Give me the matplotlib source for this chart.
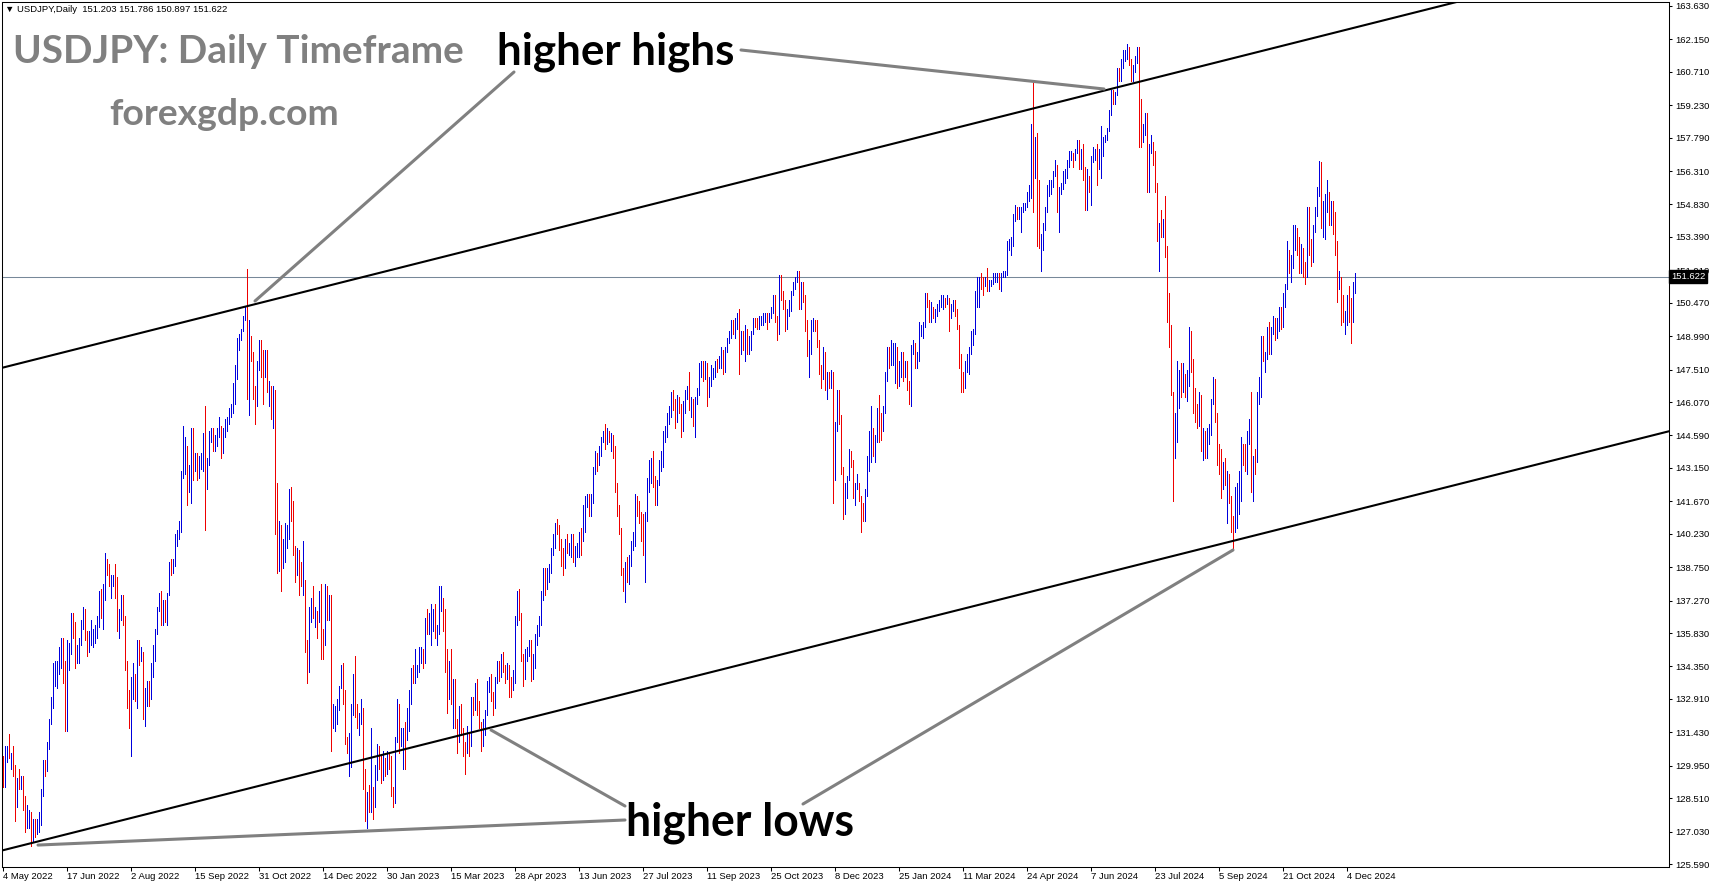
import matplotlib
matplotlib.use("Agg")
import matplotlib.pyplot as plt
import numpy as np

W, H = 1714, 888

# daily bars, weekdays from 4 May 2022 to 10 Dec 2024 (no bar on 26 Dec 2022, 25 Dec 2023, 1 Jan 2024)
first_open = 130.1

highs = [
    # May 2022
    130.4, 130.8, 130.8, 131.35, 130.5, 130.8, 130.0, 129.4, 129.8, 129.5, 129.5, 128.6, 128.2, 128.0, 127.9, 127.6, 127.6, 127.6, 127.9, 128.9,
    # Jun 2022
    130.2, 130.2, 131.0, 132.0, 133.0, 134.5, 134.6, 134.6, 135.2, 135.6, 135.6, 134.6, 135.5, 135.4, 136.7, 136.7, 136.3, 135.3, 135.6, 136.4, 137.0, 136.9,
    # Jul 2022
    135.9, 135.9, 136.4, 136.0, 136.2, 136.6, 137.7, 137.8, 138.0, 139.4, 139.1, 138.9, 138.4, 138.4, 138.9, 138.3, 136.9, 137.5, 137.5, 136.6, 134.6,
    # Aug 2022
    133.3, 133.9, 134.5, 134.0, 135.5, 135.5, 135.2, 135.0, 133.4, 133.7, 133.7, 134.5, 135.3, 136.0, 137.0, 137.6, 137.7, 137.3, 137.3, 137.6, 139.0, 139.1, 139.1,
    # Sep 2022
    140.2, 140.4, 140.8, 143.0, 145.0, 144.5, 144.0, 143.3, 144.9, 144.9, 143.8, 143.8, 143.7, 143.8, 144.7, 145.9, 143.6, 144.8, 144.9, 144.9, 144.6, 144.9,
    # Oct 2022
    145.4, 145.0, 144.9, 145.3, 145.4, 145.8, 146.0, 146.9, 147.7, 148.9, 149.1, 149.3, 149.9, 150.3, 151.95, 149.7, 149.0, 148.3, 146.8, 147.9, 148.8,
    # Nov 2022
    148.8, 148.4, 148.4, 148.4, 147.0, 146.8, 146.8, 146.6, 142.5, 140.8, 140.6, 140.0, 140.7, 140.6, 142.2, 142.3, 141.7, 139.7, 139.6, 139.5, 139.0, 139.9,
    # Dec 2022
    138.2, 135.5, 137.0, 137.4, 137.9, 137.0, 136.8, 137.7, 138.0, 136.0, 138.0, 137.9, 137.5, 137.5, 132.7, 132.6, 132.9, 133.5, 134.4, 134.5, 133.3,
    # Jan 2023
    131.2, 131.4, 132.7, 134.0, 134.8, 132.7, 132.3, 132.9, 132.5, 129.8, 128.8, 129.1, 131.6, 129.0, 130.0, 130.9, 130.8, 130.4, 130.6, 130.3, 130.6, 130.5,
    # Feb 2023
    130.4, 129.0, 131.2, 132.9, 132.7, 131.6, 131.6, 131.9, 132.5, 133.3, 134.3, 134.4, 135.1, 134.4, 135.2, 135.2, 135.1, 136.5, 136.9, 136.7,
    # Mar 2023
    137.1, 136.9, 137.1, 136.2, 137.9, 137.9, 137.4, 136.9, 135.1, 134.6, 135.1, 133.8, 133.8, 132.0, 132.6, 132.7, 131.6, 131.0, 131.7, 131.3, 133.0, 133.0, 133.6,
    # Apr 2023
    133.8, 132.8, 131.9, 132.0, 132.4, 133.7, 133.9, 134.0, 133.2, 133.9, 134.6, 134.6, 134.9, 135.0, 134.4, 134.5, 134.4, 133.9, 134.2, 136.6,
    # May 2023
    137.7, 137.8, 136.7, 134.9, 135.1, 135.2, 135.5, 135.5, 134.9, 135.8, 136.2, 136.6, 137.7, 138.7, 138.7, 138.7, 138.9, 139.6, 140.2, 140.7, 140.9, 140.6, 140.0,
    # Jun 2023
    139.6, 140.0, 140.2, 139.8, 140.2, 140.2, 139.7, 139.8, 140.3, 140.5, 141.5, 141.9, 142.0, 142.0, 142.0, 143.2, 143.9, 143.8, 144.1, 144.5, 144.8, 145.1,
    # Jul 2023
    144.9, 144.8, 144.7, 144.6, 144.1, 142.5, 141.5, 140.5, 138.7, 139.0, 139.2, 139.3, 139.9, 140.3, 142.0, 141.9, 141.7, 141.2, 141.1, 141.2, 142.7,
    # Aug 2023
    143.5, 143.6, 143.9, 142.8, 142.6, 143.5, 143.9, 144.8, 145.0, 145.6, 145.9, 146.5, 146.6, 146.2, 146.4, 146.3, 146.0, 146.1, 146.6, 146.8, 147.4, 146.3, 146.2,
    # Sep 2023
    146.3, 146.7, 147.8, 147.9, 147.9, 147.9, 147.6, 147.2, 147.7, 147.6, 147.9, 148.0, 148.1, 148.5, 148.4, 148.5, 148.9, 149.2, 149.7, 149.7, 149.8,
    # Oct 2023
    150.0, 150.2, 149.2, 149.2, 149.5, 149.3, 149.0, 149.2, 149.8, 149.8, 149.8, 149.9, 149.9, 150.0, 150.0, 150.0, 150.0, 150.3, 150.8, 150.8, 149.9, 151.7,
    # Nov 2023
    151.7, 151.0, 150.6, 150.2, 150.6, 151.0, 151.4, 151.6, 151.9, 151.9, 151.4, 151.4, 150.8, 149.7, 148.8, 149.7, 149.8, 149.7, 149.7, 148.8, 147.7, 148.5,
    # Dec 2023
    148.3, 147.4, 147.4, 147.5, 147.4, 145.2, 146.6, 146.6, 145.5, 143.2, 142.5, 142.8, 144.0, 143.9, 143.5, 142.5, 142.9, 142.5, 141.9, 141.6,
    # Jan 2024
    142.2, 143.7, 144.8, 145.9, 144.9, 144.6, 145.8, 146.4, 145.6, 145.9, 147.4, 148.5, 148.5, 148.8, 148.7, 148.7, 148.5, 147.9, 148.3, 148.3, 147.9, 147.9,
    # Feb 2024
    147.0, 148.6, 148.8, 148.7, 148.3, 149.6, 149.5, 149.6, 150.9, 150.9, 150.6, 150.5, 150.3, 150.2, 150.4, 150.6, 150.8, 150.8, 150.7, 150.8, 150.7,
    # Mar 2024
    150.4, 150.6, 150.6, 150.2, 149.5, 148.2, 147.4, 147.9, 148.2, 148.5, 149.2, 149.3, 151.0, 151.6, 151.6, 151.8, 151.6, 151.6, 152.0, 151.5, 151.5,
    # Apr 2024
    151.8, 151.8, 151.8, 151.8, 151.8, 151.9, 151.9, 153.2, 153.3, 153.4, 154.4, 154.8, 154.7, 154.7, 154.7, 154.9, 154.9, 155.4, 155.7, 158.4, 160.2, 157.8,
    # May 2024
    158.0, 155.9, 153.5, 154.0, 154.7, 155.7, 155.9, 155.9, 156.3, 156.8, 156.6, 155.6, 155.8, 156.3, 156.4, 156.8, 157.2, 157.2, 157.1, 157.3, 157.7, 157.7, 157.3,
    # Jun 2024
    157.5, 156.5, 156.4, 156.1, 157.0, 157.4, 157.3, 157.5, 157.3, 158.3, 157.8, 157.9, 158.2, 159.0, 159.9, 159.9, 159.8, 160.9, 160.9, 161.3,
    # Jul 2024
    161.7, 161.7, 161.95, 161.8, 161.3, 161.0, 161.4, 161.8, 161.8, 159.5, 158.4, 158.9, 158.9, 157.5, 157.9, 157.6, 157.2, 155.8, 154.0, 154.6, 154.2, 155.2, 153.0,
    # Aug 2024
    150.9, 149.5, 146.5, 145.6, 147.9, 147.5, 147.8, 147.8, 147.3, 147.5, 149.4, 149.1, 148.0, 146.7, 146.0, 146.5, 146.4, 144.9, 144.8, 144.9, 145.1, 146.2,
    # Sep 2024
    147.2, 147.1, 145.6, 144.2, 144.0, 143.4, 143.6, 143.0, 142.9, 141.9, 141.0, 142.3, 142.5, 143.0, 144.5, 144.2, 144.2, 144.8, 145.3, 146.5, 143.7,
    # Oct 2024
    144.0, 146.5, 147.2, 149.0, 149.0, 148.3, 149.4, 149.6, 149.4, 149.9, 149.8, 149.8, 150.3, 150.3, 150.9, 151.3, 153.2, 152.8, 152.6, 153.9, 153.9, 153.8, 153.4,
    # Nov 2024
    153.1, 152.6, 152.3, 154.7, 154.7, 153.3, 153.9, 154.7, 155.6, 156.75, 156.7, 155.0, 155.3, 155.9, 155.4, 155.0, 155.0, 154.5, 153.2, 151.9, 151.5,
    # Dec 2024
    150.8, 150.1, 150.8, 151.2, 150.7, 151.4, 151.786,
]

lows = [
    # May 2022
    129.0, 129.0, 130.1, 130.3, 129.8, 129.5, 127.5, 128.1, 128.9, 128.9, 128.0, 127.0, 127.2, 127.2, 126.4, 126.6, 126.8, 126.9, 127.0, 127.3,
    # Jun 2022
    128.6, 129.5, 129.7, 130.7, 131.8, 132.5, 133.5, 133.4, 134.0, 134.3, 133.6, 131.5, 131.5, 134.2, 134.9, 135.6, 134.3, 134.5, 134.5, 135.3, 136.0, 135.5,
    # Jul 2022
    134.8, 135.0, 135.3, 135.2, 135.4, 135.6, 136.1, 136.5, 136.0, 137.3, 138.4, 137.9, 137.4, 137.9, 137.4, 135.9, 135.6, 136.4, 136.2, 134.2, 132.5,
    # Aug 2022
    131.6, 130.4, 132.9, 132.8, 132.5, 134.4, 134.6, 132.0, 131.7, 132.6, 132.6, 132.9, 133.9, 134.6, 135.8, 136.8, 136.2, 136.2, 136.3, 136.2, 137.8, 138.4, 138.5,
    # Sep 2022
    138.8, 139.7, 140.0, 140.3, 142.8, 142.9, 141.5, 142.1, 141.6, 142.6, 143.0, 142.6, 142.7, 143.1, 143.0, 140.4, 142.2, 143.3, 144.3, 143.9, 143.9, 144.1,
    # Oct 2022
    144.5, 143.6, 143.8, 144.5, 144.8, 145.1, 145.4, 145.6, 146.0, 147.1, 148.4, 148.8, 149.2, 149.7, 146.2, 145.5, 147.9, 146.2, 145.1, 145.9, 147.5,
    # Nov 2022
    147.2, 146.0, 147.2, 146.5, 145.9, 145.3, 144.9, 140.2, 138.5, 138.6, 137.7, 138.7, 139.0, 139.6, 140.0, 140.8, 139.3, 138.1, 138.4, 137.5, 137.9, 137.5,
    # Dec 2022
    135.0, 133.6, 134.1, 136.3, 136.5, 136.1, 135.6, 136.3, 134.7, 134.7, 135.3, 136.4, 136.4, 130.6, 131.6, 131.5, 131.8, 132.4, 133.4, 132.7, 130.9,
    # Jan 2023
    130.5, 129.5, 129.9, 132.2, 132.1, 131.6, 131.3, 131.8, 128.9, 127.5, 127.2, 127.9, 127.9, 127.6, 128.1, 129.3, 129.8, 129.2, 129.3, 129.5, 129.6, 129.8,
    # Feb 2023
    128.6, 128.1, 128.3, 131.0, 130.5, 130.8, 129.8, 129.8, 131.1, 131.5, 132.7, 133.6, 133.6, 133.9, 134.1, 134.5, 134.3, 134.5, 135.8, 135.8,
    # Mar 2023
    135.3, 135.9, 135.6, 135.3, 135.8, 136.8, 135.9, 134.1, 132.3, 132.9, 132.7, 131.6, 131.6, 130.5, 131.0, 131.3, 130.4, 129.6, 130.5, 130.4, 130.8, 132.2, 132.4,
    # Apr 2023
    132.2, 131.6, 130.6, 130.8, 131.3, 132.2, 133.2, 132.8, 132.2, 132.5, 133.6, 133.7, 133.9, 134.1, 133.6, 133.8, 133.0, 133.0, 133.3, 133.6,
    # May 2023
    136.2, 136.4, 134.6, 133.5, 133.8, 134.6, 134.8, 133.7, 133.8, 134.3, 135.3, 135.7, 136.2, 137.3, 137.5, 137.8, 138.1, 138.5, 139.3, 139.6, 140.2, 139.5, 138.8,
    # Jun 2023
    138.4, 138.7, 139.4, 139.3, 139.2, 139.0, 138.8, 139.2, 139.2, 139.3, 139.9, 140.3, 141.4, 141.0, 141.0, 141.6, 142.9, 143.0, 143.3, 143.7, 144.3, 144.0,
    # Jul 2023
    144.2, 144.3, 143.9, 143.6, 142.1, 141.0, 140.2, 138.4, 137.7, 137.2, 138.1, 138.0, 138.8, 139.5, 139.7, 141.0, 140.7, 139.9, 139.3, 138.1, 140.8,
    # Aug 2023
    142.1, 142.5, 142.3, 141.5, 141.5, 142.4, 143.0, 143.2, 144.3, 144.5, 145.1, 145.4, 145.7, 144.9, 145.2, 145.6, 144.5, 144.8, 145.6, 146.2, 145.7, 145.4, 145.0,
    # Sep 2023
    144.5, 146.0, 146.4, 147.2, 147.0, 147.1, 145.9, 146.3, 146.8, 147.1, 147.2, 147.4, 147.6, 147.6, 147.3, 147.4, 148.3, 148.7, 148.9, 149.1, 148.9,
    # Oct 2023
    149.3, 147.3, 148.2, 148.4, 147.9, 148.2, 148.2, 148.4, 149.1, 149.4, 149.3, 149.3, 149.5, 149.5, 149.6, 149.3, 149.6, 149.8, 150.0, 149.6, 148.8, 149.1,
    # Nov 2023
    150.6, 150.2, 149.2, 149.3, 149.9, 150.1, 150.8, 151.1, 151.4, 150.2, 150.2, 150.5, 149.2, 148.1, 147.2, 148.2, 149.2, 149.2, 148.5, 147.3, 146.7, 147.1,
    # Dec 2023
    146.6, 146.2, 146.7, 146.7, 141.6, 142.6, 144.8, 145.1, 142.9, 140.9, 141.1, 141.8, 142.6, 143.2, 141.8, 141.5, 142.2, 141.7, 140.3, 140.8,
    # Jan 2024
    140.8, 141.9, 143.0, 143.4, 143.7, 143.4, 144.3, 144.3, 144.4, 144.8, 145.6, 147.0, 147.6, 147.7, 147.7, 146.9, 146.7, 146.8, 147.2, 147.0, 147.2, 146.6,
    # Feb 2024
    146.0, 145.9, 148.2, 147.6, 147.6, 147.9, 149.0, 148.9, 149.4, 150.3, 149.6, 149.6, 149.8, 149.6, 149.9, 150.1, 150.3, 150.2, 150.3, 150.4, 149.2,
    # Mar 2024
    149.8, 150.1, 149.9, 149.3, 147.6, 146.5, 146.5, 146.7, 147.4, 147.3, 148.2, 148.6, 149.2, 150.3, 150.3, 151.1, 150.8, 151.2, 151.0, 151.0, 151.2,
    # Apr 2024
    151.3, 151.4, 151.4, 151.1, 151.0, 151.6, 151.6, 151.7, 152.8, 152.6, 153.0, 154.1, 154.2, 154.2, 153.6, 154.5, 154.6, 154.7, 155.0, 155.1, 154.5, 156.0,
    # May 2024
    153.0, 152.9, 151.9, 152.8, 153.7, 154.5, 155.2, 155.3, 155.6, 156.1, 154.5, 153.6, 155.3, 155.5, 155.8, 156.0, 156.5, 156.8, 156.5, 156.8, 157.1, 156.4, 156.4,
    # Jun 2024
    155.9, 154.6, 154.6, 155.4, 154.8, 156.7, 156.8, 155.7, 156.4, 156.0, 157.0, 157.6, 157.7, 158.1, 158.8, 159.3, 159.3, 159.7, 160.3, 160.3,
    # Jul 2024
    160.9, 161.2, 161.3, 161.0, 160.3, 160.3, 160.7, 161.1, 157.4, 157.4, 157.6, 157.9, 155.4, 155.4, 157.1, 156.6, 155.4, 153.2, 151.9, 153.4, 153.4, 152.5, 149.6,
    # Aug 2024
    148.5, 146.4, 141.7, 143.6, 144.3, 145.8, 146.3, 146.5, 146.3, 146.1, 146.8, 147.4, 145.6, 145.2, 144.9, 145.0, 143.9, 143.5, 143.6, 143.6, 144.2, 144.6,
    # Sep 2024
    146.0, 145.2, 143.3, 142.9, 141.8, 142.2, 142.4, 140.7, 141.6, 140.3, 139.6, 140.3, 140.5, 141.1, 141.7, 143.3, 143.0, 142.9, 144.2, 142.1, 141.7,
    # Oct 2024
    142.9, 143.4, 146.0, 146.3, 147.9, 147.4, 148.0, 148.2, 148.2, 149.1, 148.8, 148.9, 149.2, 149.3, 149.4, 150.3, 151.1, 151.8, 151.4, 152.0, 152.8, 152.6, 151.8,
    # Nov 2024
    151.8, 151.6, 151.3, 151.6, 152.6, 152.1, 152.3, 153.6, 154.3, 155.2, 153.8, 153.4, 153.3, 154.5, 153.9, 153.9, 153.5, 152.6, 150.5, 151.1, 149.5,
    # Dec 2024
    149.6, 149.1, 149.5, 149.6, 148.7, 149.6, 150.897,
]

closes = [
    # May 2022
    129.1, 130.2, 130.5, 130.3, 130.4, 129.9, 128.3, 129.2, 129.1, 129.4, 128.2, 127.8, 127.9, 127.9, 126.9, 127.3, 127.1, 127.1, 127.6, 128.7,
    # Jun 2022
    130.0, 129.9, 130.9, 131.9, 132.6, 134.2, 134.4, 134.4, 134.4, 135.4, 133.9, 132.2, 135.0, 135.1, 136.6, 136.2, 134.9, 135.2, 135.5, 136.1, 136.6, 135.7,
    # Jul 2022
    135.2, 135.7, 135.9, 135.9, 136.0, 136.1, 137.4, 136.9, 137.4, 138.9, 138.6, 138.2, 138.2, 138.2, 137.4, 136.1, 136.7, 137.0, 136.6, 134.3, 133.2,
    # Aug 2022
    131.6, 133.2, 133.2, 133.0, 135.0, 134.9, 135.0, 132.9, 133.0, 133.5, 133.3, 134.2, 135.1, 135.9, 137.0, 137.5, 136.8, 137.1, 136.6, 137.5, 138.8, 138.7, 138.9,
    # Sep 2022
    140.2, 140.2, 140.5, 142.7, 144.0, 144.1, 142.6, 142.8, 144.6, 143.2, 143.5, 142.9, 143.2, 143.7, 144.1, 142.4, 143.4, 144.7, 144.8, 144.2, 144.5, 144.7,
    # Oct 2022
    144.8, 144.1, 144.6, 145.1, 145.3, 145.7, 145.8, 146.8, 147.2, 148.7, 149.0, 149.2, 149.9, 150.1, 147.6, 148.9, 148.0, 146.4, 146.3, 147.5, 148.7,
    # Nov 2022
    148.2, 147.9, 148.2, 146.6, 146.6, 145.6, 146.4, 141.0, 138.8, 139.9, 139.3, 139.5, 140.2, 140.3, 142.1, 141.2, 139.6, 138.6, 139.2, 138.9, 138.0, 138.0,
    # Dec 2022
    135.3, 134.3, 136.8, 137.0, 136.6, 136.6, 136.5, 137.6, 135.6, 135.5, 137.8, 136.6, 136.9, 131.7, 132.4, 132.4, 132.8, 133.5, 134.4, 133.1, 131.1,
    # Jan 2023
    130.7, 131.0, 132.4, 133.4, 132.1, 131.9, 132.2, 132.4, 129.2, 127.9, 128.5, 128.1, 128.9, 128.4, 129.6, 130.7, 130.2, 129.6, 130.2, 129.9, 130.4, 130.1,
    # Feb 2023
    128.9, 128.7, 131.2, 132.6, 131.1, 131.4, 131.5, 131.4, 132.4, 133.1, 134.1, 133.9, 134.2, 134.2, 134.9, 134.9, 134.7, 136.4, 136.2, 136.2,
    # Mar 2023
    136.2, 136.7, 135.9, 135.9, 137.1, 137.3, 136.1, 134.9, 133.2, 134.2, 133.5, 133.7, 131.8, 131.4, 132.4, 131.5, 130.9, 130.8, 131.4, 130.9, 132.9, 132.7, 132.8,
    # Apr 2023
    132.5, 131.6, 131.3, 131.8, 132.2, 133.6, 133.7, 133.1, 132.6, 133.8, 134.5, 134.1, 134.7, 134.2, 134.1, 134.3, 133.7, 133.6, 133.9, 136.3,
    # May 2023
    137.5, 136.5, 134.7, 134.3, 134.8, 135.1, 135.2, 134.3, 134.5, 135.7, 136.1, 136.3, 137.6, 138.6, 137.9, 138.6, 138.6, 139.5, 140.1, 140.6, 140.4, 139.8, 139.3,
    # Jun 2023
    138.8, 139.9, 139.6, 139.6, 140.1, 139.3, 139.4, 139.6, 140.2, 140.0, 140.3, 141.8, 141.9, 141.4, 141.9, 143.1, 143.7, 143.4, 143.9, 144.4, 144.8, 144.3,
    # Jul 2023
    144.7, 144.5, 144.6, 144.1, 142.1, 141.3, 140.4, 138.5, 138.1, 138.8, 138.7, 139.1, 139.7, 140.0, 141.8, 141.5, 140.9, 140.3, 139.4, 141.2, 142.3,
    # Aug 2023
    143.3, 143.3, 142.6, 141.8, 142.5, 143.4, 143.8, 144.7, 144.9, 145.6, 145.6, 146.4, 146.1, 145.4, 146.2, 145.9, 144.8, 145.8, 146.4, 146.5, 145.9, 146.2, 145.5,
    # Sep 2023
    146.2, 146.5, 147.7, 147.7, 147.3, 147.8, 146.6, 147.1, 147.5, 147.5, 147.8, 147.6, 147.9, 148.3, 147.6, 148.4, 148.9, 149.1, 149.6, 149.3, 149.4,
    # Oct 2023
    149.9, 149.0, 149.1, 148.5, 149.3, 148.5, 148.7, 149.1, 149.8, 149.6, 149.5, 149.8, 149.8, 149.8, 149.9, 149.7, 149.9, 150.2, 150.4, 149.6, 149.1, 151.7,
    # Nov 2023
    150.9, 150.5, 149.4, 150.0, 150.4, 150.9, 151.3, 151.5, 151.7, 150.4, 151.4, 150.7, 149.6, 148.3, 148.4, 149.5, 149.5, 149.4, 148.7, 147.5, 147.2, 148.2,
    # Dec 2023
    146.8, 147.2, 147.1, 147.3, 144.1, 144.9, 146.2, 145.4, 142.9, 141.9, 142.2, 142.8, 143.8, 143.5, 142.1, 142.4, 142.4, 141.8, 141.5, 141.0,
    # Jan 2024
    142.0, 143.3, 144.6, 144.6, 144.2, 144.4, 145.7, 145.3, 144.9, 145.7, 147.2, 148.2, 148.1, 148.1, 148.1, 148.4, 147.5, 147.6, 148.2, 147.5, 147.6, 146.9,
    # Feb 2024
    146.4, 148.4, 148.7, 147.9, 148.1, 149.3, 149.3, 149.4, 150.8, 150.6, 149.9, 150.2, 150.0, 150.0, 150.3, 150.5, 150.5, 150.7, 150.5, 150.6, 149.9,
    # Mar 2024
    150.1, 150.5, 150.0, 149.4, 148.0, 147.0, 146.9, 147.7, 147.8, 148.3, 149.0, 149.1, 150.9, 151.2, 151.6, 151.4, 151.3, 151.5, 151.3, 151.3, 151.3,
    # Apr 2024
    151.6, 151.6, 151.6, 151.3, 151.6, 151.8, 151.8, 153.2, 153.2, 153.3, 154.2, 154.6, 154.4, 154.6, 154.6, 154.8, 154.8, 155.3, 155.6, 158.3, 156.4, 157.8,
    # May 2024
    155.0, 153.0, 153.0, 153.9, 154.6, 155.5, 155.5, 155.8, 156.2, 156.4, 154.9, 155.4, 155.7, 156.2, 156.2, 156.8, 157.0, 157.0, 156.9, 157.2, 157.6, 156.8, 157.3,
    # Jun 2024
    156.1, 154.8, 156.1, 155.6, 156.8, 157.1, 157.1, 156.7, 157.0, 157.4, 157.7, 157.9, 158.1, 158.9, 159.8, 159.7, 159.7, 160.8, 160.7, 160.9,
    # Jul 2024
    161.5, 161.5, 161.7, 161.2, 160.8, 160.8, 161.3, 161.6, 159.0, 157.8, 158.1, 158.3, 156.2, 157.4, 157.5, 157.0, 155.6, 153.9, 153.9, 153.8, 153.9, 152.7, 150.0,
    # Aug 2024
    149.4, 146.5, 144.2, 144.3, 146.8, 147.3, 146.6, 147.2, 146.8, 147.3, 149.2, 147.6, 146.0, 145.3, 145.2, 146.3, 144.3, 144.5, 143.9, 144.6, 144.9, 146.2,
    # Sep 2024
    146.9, 145.4, 143.7, 143.4, 142.3, 143.1, 142.4, 142.4, 141.8, 140.8, 140.6, 142.3, 142.3, 142.6, 143.9, 143.6, 143.2, 144.8, 144.8, 142.2, 143.6,
    # Oct 2024
    143.5, 146.5, 146.9, 148.7, 148.2, 148.2, 149.3, 148.6, 149.1, 149.7, 149.2, 149.6, 150.1, 149.5, 150.8, 151.1, 152.7, 151.8, 152.3, 153.3, 153.4, 153.3, 152.0,
    # Nov 2024
    152.9, 152.0, 151.6, 154.6, 152.9, 152.6, 153.7, 154.6, 155.5, 156.3, 154.3, 154.7, 154.7, 155.4, 154.5, 154.8, 154.2, 153.1, 151.1, 151.6, 149.8,
    # Dec 2024
    149.6, 149.6, 150.6, 150.1, 150.0, 151.2, 151.622,
]

date_labels = ["4 May 2022", "17 Jun 2022", "2 Aug 2022", "15 Sep 2022", "31 Oct 2022", "14 Dec 2022",
               "30 Jan 2023", "15 Mar 2023", "28 Apr 2023", "13 Jun 2023", "27 Jul 2023", "11 Sep 2023",
               "25 Oct 2023", "8 Dec 2023", "25 Jan 2024", "11 Mar 2024", "24 Apr 2024", "7 Jun 2024",
               "23 Jul 2024", "5 Sep 2024", "21 Oct 2024", "4 Dec 2024"]
label_step = 32  # bars between date labels

price_ticks = [125.590, 127.030, 128.510, 129.950, 131.430, 132.910, 134.350, 135.830, 137.270,
               138.750, 140.230, 141.670, 143.150, 144.590, 146.070, 147.510, 148.990, 150.470,
               151.910, 153.390, 154.830, 156.310, 157.790, 159.230, 160.710, 162.150, 163.630]

last_price = 151.622
header = "\u25bc USDJPY,Daily  151.203 151.786 150.897 151.622"

# channel lines: price at bar 0 and slope per bar
upper_start, lower_start, channel_slope = 147.60, 126.20, 0.0223

assert len(highs) == len(lows) == len(closes) == 677

plt.rcParams['font.family'] = ['Liberation Sans', 'DejaVu Sans']

fig = plt.figure(figsize=(W / 100, H / 100), dpi=100)
fig.patch.set_facecolor('white')
ax = fig.add_axes([2 / W, (H - 867) / H, 1667 / W, 865 / H])

n = len(closes)
x = np.arange(n)
c = np.array(closes)
o = np.r_[first_open, c[:-1]]
hi = np.maximum(np.array(highs), np.maximum(o, c))
lo = np.minimum(np.array(lows), np.minimum(o, c))
up = c >= o

ax.vlines(x[up], lo[up], hi[up], colors='#0000dd', linewidth=0.6, antialiased=False, zorder=3)
ax.vlines(x[~up], lo[~up], hi[~up], colors='#ee0000', linewidth=0.6, antialiased=False, zorder=3)

ax.set_xlim(-0.5, 833)
ax.set_ylim(125.457, 163.807)

# channel
xs = np.array([-0.5, 833])
ax.plot(xs, upper_start + channel_slope * xs, color='black', lw=1.5, zorder=4)
ax.plot(xs, lower_start + channel_slope * xs, color='black', lw=1.5, zorder=4)

# current price
ax.axhline(last_price, color='#778899', lw=0.75, zorder=2)
ax.text((1671 - 2) / 1667, last_price, f"{last_price:.3f}", transform=ax.get_yaxis_transform(),
        color='white', fontsize=6.8, va='center', ha='left', clip_on=False, zorder=10,
        bbox=dict(boxstyle='square,pad=0.2', fc='black', ec='black'))

# axes styling
for s in ax.spines.values():
    s.set_linewidth(0.75)
    s.set_color('black')
ax.yaxis.tick_right()
ax.set_yticks(price_ticks)
ax.set_yticklabels([f"{v:.3f}" for v in price_ticks])
ax.tick_params(axis='y', direction='out', length=2.2, width=0.75, pad=2.2, labelsize=6.8)
ax.set_xticks(np.arange(len(date_labels)) * label_step)
ax.set_xticklabels(date_labels, ha='left')
ax.tick_params(axis='x', direction='out', length=2.9, width=0.75, pad=1.0, labelsize=6.8)

fig.text(5 / W, 1 - 9 / H, header, fontsize=6.8, va='center', ha='left')

# annotations
renderer = fig.canvas.get_renderer()


def fit_text(s, x_px, base_px, width_px, color):
    t = fig.text(x_px / W, 1 - base_px / H, s, fontsize=30, fontweight='bold',
                 family=['Lato', 'DejaVu Sans'], color=color, ha='left', va='baseline')
    w = t.get_window_extent(renderer=renderer).width
    t.set_fontsize(30 * width_px / w)
    return t


fit_text("USDJPY: Daily Timeframe", 13, 63, 450, '#808080')
fit_text("forexgdp.com", 109, 125, 230, '#808080')
fit_text("higher highs", 497, 64, 237, 'black')
fit_text("higher lows", 626, 835, 228, 'black')

# pointer lines: (text end in pixels from top-left, bar index, price)
pointers = [
    ((514, 72), 126, 150.55),
    ((741, 50), 550.5, 159.95),
    ((625, 806), 244, 131.53),
    ((625, 820), 17.5, 126.43),
    ((803, 804), 615, 139.51),
]
for (px, py), bi, pr in pointers:
    ax.annotate('', xy=(bi, pr), xycoords='data', xytext=(px, H - py), textcoords='figure pixels',
                arrowprops=dict(arrowstyle='-', color='#808080', lw=2.2, shrinkA=0, shrinkB=0),
                annotation_clip=False, zorder=5)

fig.savefig("out.png", dpi=100)
